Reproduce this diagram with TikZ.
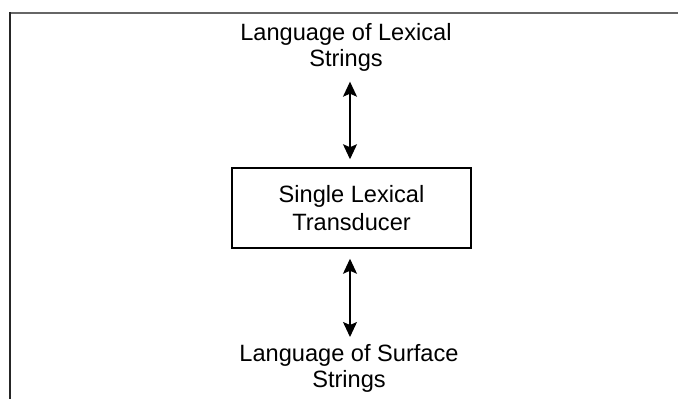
\documentclass[tikz,border=0pt]{standalone}
\usepackage{fontspec}
\setmainfont{Liberation Sans}
\usetikzlibrary{arrows.meta}
\tikzset{
  label text/.style={inner sep=0pt, align=center,
    font=\fontsize{23.6pt}{26pt}\selectfont},
  transducer/.style={draw, line width=1.5pt, minimum width=239pt,
    minimum height=80pt, inner sep=0pt, align=center,
    font=\fontsize{23.6pt}{27.5pt}\selectfont},
  both ways/.style={line width=1.3pt,
    {Stealth[length=15pt,width=14pt,inset=3pt]}-{Stealth[length=15pt,width=14pt,inset=3pt]}},
}
\begin{document}
\begin{tikzpicture}[x=1pt,y=1pt]
  \useasboundingbox (0,0) rectangle (678,399);
  \fill[white] (0,0) rectangle (678,399);
  % page frame: top rule and left rule
  \draw[line width=1.5pt, black!60] (9.5,386) -- (678,386);
  \draw[line width=1.5pt, black!85] (10,386.7) -- (10,0);
  % the three levels (base anchor = baseline of the last line)
  \node[label text, anchor=base] (lex) at (346,332.3) {Language of Lexical\\Strings};
  \node[transducer] (fst) at (351.5,191) {Single Lexical\\Transducer};
  \node[label text, anchor=base] (surf) at (349,11) {Language of Surface\\Strings};
  % two-way connectors
  \coordinate (upTop) at (350,317.3);
  \coordinate (dnBot) at (350,62);
  \draw[both ways, shorten >=8pt] (upTop) -- (fst.north -| upTop);
  \draw[both ways, shorten <=10pt] (fst.south -| dnBot) -- (dnBot);
\end{tikzpicture}
\end{document}
